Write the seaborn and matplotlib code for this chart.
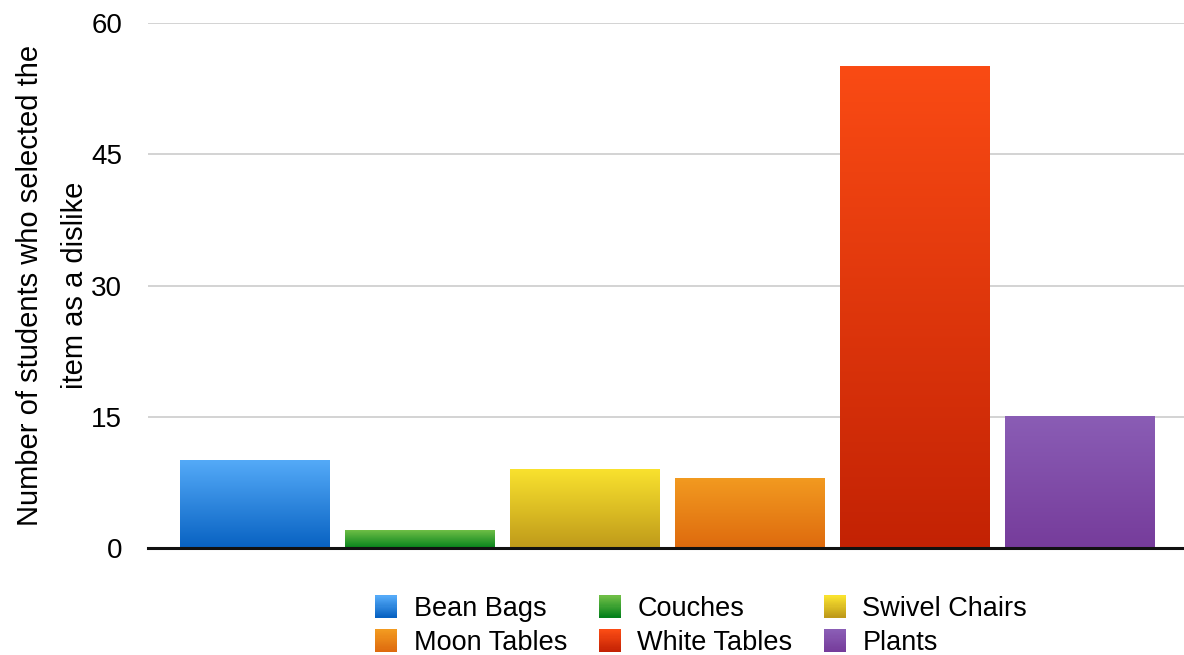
import numpy as np
import pandas as pd
import matplotlib
matplotlib.use("Agg")
import matplotlib.pyplot as plt
import seaborn as sns
from matplotlib.colors import LinearSegmentedColormap, to_rgb
from matplotlib.patches import Rectangle
from matplotlib.legend_handler import HandlerBase

categories = ["Bean Bags", "Couches", "Swivel Chairs", "Moon Tables", "White Tables", "Plants"]
values = [10, 2, 9, 8, 55, 15]
top_colors = ["#54AAF8", "#6EBE46", "#F9E22E", "#F29A20", "#FA4B14", "#8A5DB5"]
bottom_colors = ["#0862C2", "#06821C", "#BF9A1A", "#DE6A0E", "#C32204", "#763C9B"]
y_ticks = [0, 15, 30, 45, 60]

sns.set_theme(style="white")
plt.rcParams["font.family"] = ["Liberation Sans", "DejaVu Sans"]

fig = plt.figure(figsize=(11.84, 6.55), dpi=100)
ax = fig.add_axes([148 / 1184, 1 - 548 / 655, 1 - 148 / 1184, (548 - 23) / 655])

df = pd.DataFrame({"item": categories, "count": values})
sns.barplot(data=df, x="item", y="count", hue="item", palette=top_colors,
            width=150 / 165, legend=False, ax=ax, saturation=1)

# gradient fill for bars
for patch, tc, bc in zip(ax.patches, top_colors, bottom_colors):
    x0, y0 = patch.get_x(), patch.get_y()
    w, h = patch.get_width(), patch.get_height()
    cmap = LinearSegmentedColormap.from_list("g", [bc, tc])
    grad = np.linspace(0, 1, 256).reshape(-1, 1)
    ax.imshow(grad, extent=[x0, x0 + w, y0, y0 + h], origin="lower",
              aspect="auto", cmap=cmap, zorder=2, interpolation="bilinear")
    patch.set_visible(False)
ax.set_xlim(-0.5 - 24.5 / 165, 5.5 + 22 / 165)
ax.set_ylim(0, 60)

ax.set_yticks(y_ticks)
ax.yaxis.grid(True, color="#CCCCCC", linewidth=1.2)
ax.xaxis.grid(False)
ax.set_axisbelow(True)
for s in ["top", "right", "left"]:
    ax.spines[s].set_visible(False)
ax.spines["bottom"].set_color("#111111")
ax.spines["bottom"].set_linewidth(2.2)
ax.spines["bottom"].set_zorder(5)
ax.set_xticks([])
ax.set_xlabel("")
ax.tick_params(axis="y", length=0, pad=18.5, labelsize=20, labelcolor="black")
ax.set_ylabel("Number of students who selected the\nitem as a dislike",
              fontsize=21, color="black", linespacing=1.75)
ax.yaxis.set_label_coords(89 / 1184, 1 - 285 / 655, transform=fig.transFigure)


class GradHandler(HandlerBase):
    def __init__(self, tc, bc):
        super().__init__()
        self.tc, self.bc = to_rgb(tc), to_rgb(bc)

    def create_artists(self, legend, orig_handle, xdescent, ydescent, width,
                       height, fontsize, trans):
        n = 20
        size = 22 * 72 / 100
        artists = []
        x = -xdescent + (width - size) / 2
        yb = -ydescent + (height - size) / 2
        for i in range(n):
            t = i / (n - 1)
            c = tuple(b + (tt - b) * t for b, tt in zip(self.bc, self.tc))
            r = Rectangle((x, yb + size * i / n), size, size / n + 0.3,
                          facecolor=c, edgecolor="none", transform=trans)
            artists.append(r)
        return artists


handles = [Rectangle((0, 0), 1, 1) for _ in categories]
order = [0, 3, 1, 4, 2, 5]
hmap = {handles[i]: GradHandler(top_colors[i], bottom_colors[i]) for i in range(len(categories))}
leg = fig.legend([handles[i] for i in order], [categories[i] for i in order],
                 handler_map=hmap, ncol=3, loc="center",
                 bbox_to_anchor=(701 / 1184, 1 - 626 / 655), frameon=False,
                 fontsize=19.5, handlelength=0.85, handleheight=0.85,
                 handletextpad=0.6, columnspacing=1.13, labelspacing=0.3)
for t in leg.get_texts():
    t.set_color("black")

fig.savefig("out.png", dpi=100)
